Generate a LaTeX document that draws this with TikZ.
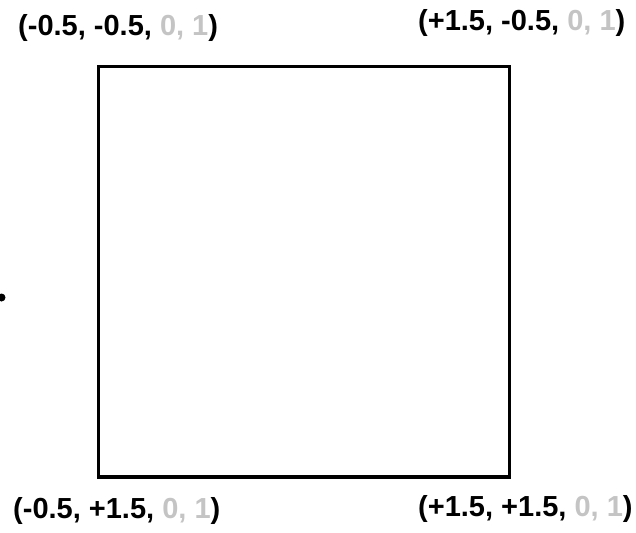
\documentclass[tikz,border=0pt]{standalone}
\usepackage{fontspec}
\setmainfont{Liberation Sans}
\definecolor{faded}{RGB}{196,196,196}
\newcommand{\gris}[1]{\textcolor{faded}{#1}}
\newcommand{\coin}[4]{\node[lab] (#1) at (#2) {(#3, #4, \gris{0, 1})}}

\begin{document}
\begin{tikzpicture}[x=1pt, y=-1pt,
	epais/.style = {line width=3.5},
	lab/.style = {anchor=west, inner sep=0, font=\fontsize{29}{34}\selectfont\bfseries}]
	\useasboundingbox (0,0) rectangle (636,532);
%The square
	\draw[epais] (98.5,66.5) rectangle (509.5,477);
%The corners
	\coin{hg}{18,28}{-0.5}{-0.5};
	\coin{hd}{418,23}{+1.5}{-0.5};
	\coin{bg}{13,511}{-0.5}{+1.5};
	\coin{bd}{418,509}{+1.5}{+1.5};
%The point on the left
	\fill (1.5,297.5) circle (4);
\end{tikzpicture}
\end{document}
